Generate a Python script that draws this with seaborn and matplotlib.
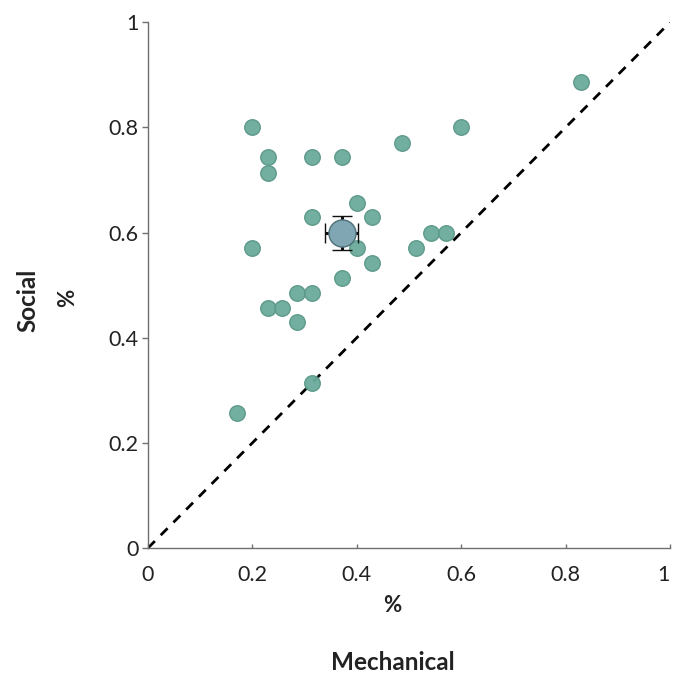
import matplotlib
matplotlib.use("Agg")
import matplotlib.pyplot as plt
import seaborn as sns
import pandas as pd

# Data (fraction values)
mechanical = [0.200, 0.229, 0.229, 0.314, 0.371, 0.486, 0.600, 0.400, 0.314, 0.429,
              0.543, 0.571, 0.400, 0.514, 0.200, 0.429, 0.371, 0.286, 0.314, 0.229,
              0.257, 0.286, 0.314, 0.171, 0.829]
social = [0.800, 0.743, 0.714, 0.743, 0.743, 0.771, 0.800, 0.657, 0.629, 0.629,
          0.600, 0.600, 0.571, 0.571, 0.571, 0.543, 0.514, 0.486, 0.486, 0.457,
          0.457, 0.429, 0.314, 0.257, 0.886]
mean_xy = [0.371, 0.599]
err_xy = [0.032, 0.032]
ticks = [0, 0.2, 0.4, 0.6, 0.8, 1]
tick_labels = ["0", "0.2", "0.4", "0.6", "0.8", "1"]

df = pd.DataFrame({"Mechanical": mechanical, "Social": social})

sns.set_theme(style="white")
plt.rcParams["font.family"] = ["Lato", "DejaVu Sans"]

fig = plt.figure(figsize=(6.73, 6.86), dpi=100)
ax = fig.add_axes([148 / 673, 1 - 548 / 686, 522 / 673, (548 - 22.3) / 686])

ax.plot([0, 1], [0, 1], ls=(0, (3.5, 3)), color="black", lw=2, zorder=1)

sns.scatterplot(data=df, x="Mechanical", y="Social", ax=ax, s=125,
                color="#6aab9b", edgecolor="#5b9888", linewidth=1.0, alpha=0.95,
                zorder=3, legend=False)

ax.errorbar([mean_xy[0]], [mean_xy[1]], xerr=[err_xy[0]], yerr=[err_xy[1]],
            fmt="o", ms=19.5, mfc="#7fa6b2", mec="#4f7078", mew=1.0,
            ecolor="#111111", elinewidth=2.2, capsize=7, capthick=2.2, zorder=4)

ax.set_xlim(0, 1)
ax.set_ylim(0, 1)
ax.set_xticks(ticks)
ax.set_xticklabels(tick_labels)
ax.set_yticks(ticks)
ax.set_yticklabels(tick_labels)
ax.set_xlabel("")
ax.set_ylabel("")
ax.get_xticklabels()[-1].set_horizontalalignment("right")

for side in ["top", "right"]:
    ax.spines[side].set_visible(False)
for side in ["left", "bottom"]:
    ax.spines[side].set_color("#707070")
    ax.spines[side].set_linewidth(1.0)

ax.tick_params(axis="x", direction="in", length=3, width=1, color="#707070",
               labelsize=15.5, pad=12, labelcolor="#222222")
ax.tick_params(axis="y", direction="out", length=4, width=1, color="#707070",
               labelsize=15.5, pad=3, labelcolor="#222222")
ax.tick_params(left=True, bottom=True)

fig.text(392 / 673, 1 - 605 / 686, "%", ha="center", va="center",
         fontsize=16, fontweight="bold", color="#222222")
fig.text(393 / 673, 1 - 663 / 686, "Mechanical", ha="center", va="center",
         fontsize=17.5, fontweight="bold", color="#222222")
fig.text(28 / 673, 1 - 300 / 686, "Social", ha="center", va="center",
         rotation=90, fontsize=17.5, fontweight="bold", color="#222222")
fig.text(68 / 673, 1 - 298 / 686, "%", ha="center", va="center",
         rotation=90, fontsize=16, fontweight="bold", color="#222222")

fig.savefig("out.png", dpi=100)
